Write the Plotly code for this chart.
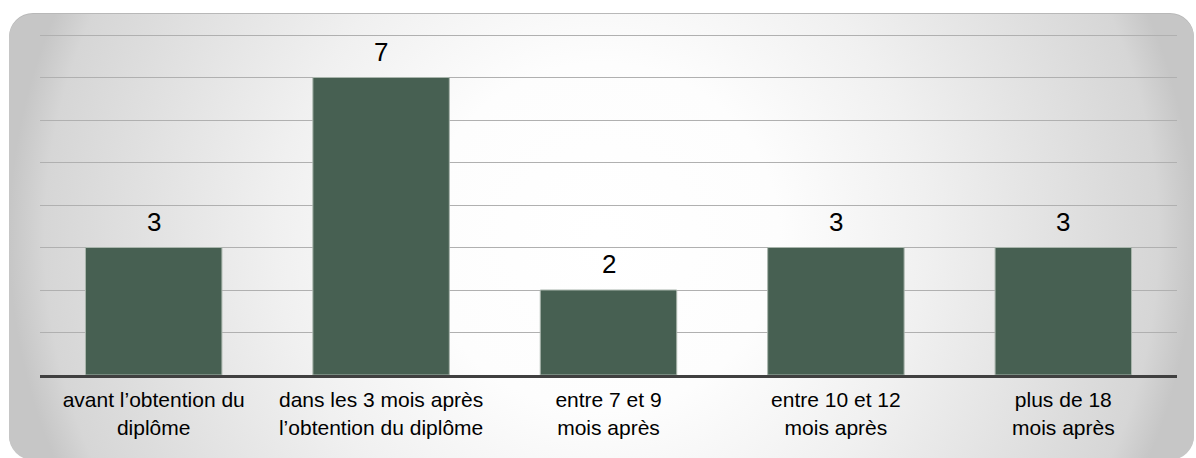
import base64
import plotly.graph_objects as go

categories = [
    "avant l’obtention du<br>diplôme",
    "dans les 3 mois après<br>l’obtention du diplôme",
    "entre 7 et 9<br>mois après",
    "entre 10 et 12<br>mois après",
    "plus de 18<br>mois après",
]
values = [3, 7, 2, 3, 3]

W, H = 1196, 458

svg = f'''<svg xmlns="http://www.w3.org/2000/svg" width="{W}" height="{H}" viewBox="0 0 {W} {H}" preserveAspectRatio="none">
<defs>
<radialGradient id="g" cx="0.5" cy="0.5" r="0.5" gradientTransform="translate(0.5,0.5) scale(1,2.6) translate(-0.5,-0.5)">
<stop offset="0" stop-color="#ffffff"/>
<stop offset="0.3" stop-color="#fdfdfd"/>
<stop offset="0.55" stop-color="#f0f0f0"/>
<stop offset="0.94" stop-color="#d6d6d6"/>
<stop offset="1" stop-color="#c6c6c6"/>
</radialGradient>
</defs>
<rect x="9" y="13" width="1185" height="446" rx="24" ry="24" fill="#b8b8b8"/>
<rect x="9" y="14" width="1185" height="446" rx="24" ry="24" fill="url(#g)"/>
</svg>'''
src = "data:image/svg+xml;base64," + base64.b64encode(svg.encode("utf-8")).decode("ascii")

fig = go.Figure()
fig.add_trace(go.Bar(
    x=categories,
    y=values,
    width=0.6,
    marker=dict(color="#476052", line=dict(color="#a9b5ac", width=1)),
    hoverinfo="skip",
))

for c, v in zip(categories, values):
    fig.add_annotation(
        x=c, y=v, text=str(v), showarrow=False,
        yanchor="bottom", yshift=9,
        font=dict(family="Liberation Sans, Arial", size=26, color="#000000"),
    )

top = 8.1
fig.update_layout(
    width=W, height=H,
    margin=dict(l=0, r=0, t=0, b=0),
    paper_bgcolor="#ffffff",
    plot_bgcolor="rgba(0,0,0,0)",
    showlegend=False,
    images=[dict(source=src, xref="paper", yref="paper", x=0, y=1,
                 sizex=1, sizey=1, xanchor="left", yanchor="top",
                 sizing="stretch", layer="below")],
    font=dict(family="Liberation Sans, Arial", color="#000000"),
)
fig.update_xaxes(
    domain=[40 / W, 1177 / W],
    showline=True, linecolor="#404040", linewidth=3,
    showgrid=False, ticks="",
    tickfont=dict(family="Liberation Sans, Arial", size=21, color="#000000"),
    ticklabelstandoff=4,
)
fig.update_yaxes(
    domain=[(H - 375) / H, (H - (375 - 42.5 * top)) / H],
    range=[0, top], dtick=1,
    showgrid=True, gridcolor="#b0b0b0", gridwidth=1,
    showticklabels=False, zeroline=False, showline=False, ticks="",
)

fig.write_html(
    "out.html",
    config={"displayModeBar": False},
    post_script="document.body.style.margin='0';document.body.style.padding='0';",
)
